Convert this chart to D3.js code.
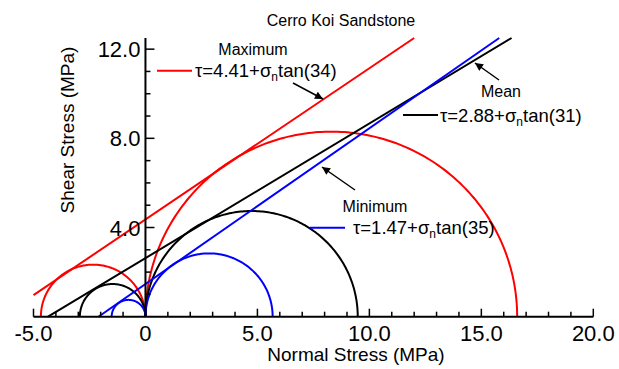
<!DOCTYPE html>
<html>
<head>
<meta charset="utf-8">
<script src="https://cdn.jsdelivr.net/npm/d3@7"></script>
<style>
  body { margin: 0; background: #fff; }
  svg { font-family: Arial, "Liberation Sans", sans-serif; }
</style>
</head>
<body>
<svg id="chart" width="619" height="369"></svg>
<script>
// Mohr circles: [sigma3, sigma1] in MPa
const circlesMax = [[-4.67, 0], [0, 16.6]];
const circlesMean = [[-2.93, 0], [0, 9.48]];
const circlesMin = [[-1.51, 0], [0, 5.68]];

// failure envelopes drawn as two end points [sigma, tau]
const envMax = [[-5.0, 0.97], [12.0, 12.5]];
const envMean = [[-4.35, 0], [16.35, 12.5]];
const envMin = [[-2.1, 0], [15.8, 12.5]];

const xTicks = [-5, 0, 5, 10, 15, 20];
const xTickLabels = ["-5.0", "0", "5.0", "10.0", "15.0", "20.0"];
const yTicks = [4, 8, 12];
const yTickLabels = ["4.0", "8.0", "12.0"];

const legend = [
  { name: "Maximum", c: "4.41", phi: "34", color: "#ff0000" },
  { name: "Mean", c: "2.88", phi: "31", color: "#000000" },
  { name: "Minimum", c: "1.47", phi: "35", color: "#0000ff" }
];

const svg = d3.select("#chart");

const x = d3.scaleLinear().domain([-5, 20]).range([33.5, 593.3]);
const y = d3.scaleLinear().domain([0, 12.5]).range([316.7, 38]);

// arrow head
svg.append("defs").append("marker")
  .attr("id", "arr")
  .attr("viewBox", "0 0 10 10")
  .attr("refX", 10).attr("refY", 5)
  .attr("markerWidth", 10).attr("markerHeight", 8)
  .attr("markerUnits", "userSpaceOnUse")
  .attr("orient", "auto")
  .append("path").attr("d", "M0,0L10,5L0,10z").attr("fill", "#000");

const plot = svg.append("g");

function semicircle(c) {
  const cx = (c[0] + c[1]) / 2, r = (c[1] - c[0]) / 2;
  const pts = d3.range(0, 181).map(a => {
    const t = a * Math.PI / 180;
    return [cx + r * Math.cos(t), r * Math.sin(t)];
  });
  return d3.line().x(d => x(d[0])).y(d => y(d[1]))(pts);
}

const sets = [
  { circles: circlesMax, env: envMax, color: "#ff0000" },
  { circles: circlesMean, env: envMean, color: "#000000" },
  { circles: circlesMin, env: envMin, color: "#0000ff" }
];

sets.forEach(s => {
  plot.selectAll(null).data(s.circles).enter().append("path")
    .attr("d", semicircle)
    .attr("fill", "none")
    .attr("stroke", s.color)
    .attr("stroke-width", 2);
});
sets.forEach(s => {
  plot.append("path")
    .attr("d", d3.line().x(d => x(d[0])).y(d => y(d[1]))(s.env))
    .attr("fill", "none")
    .attr("stroke", s.color)
    .attr("stroke-width", 2);
});

// axes
const xAxis = svg.append("g").attr("transform", `translate(0,${y(0)})`);
xAxis.append("line").attr("x1", x(-5)).attr("x2", x(20)).attr("stroke", "#000").attr("stroke-width", 2);
xAxis.selectAll(".minor").data(d3.range(-5, 21)).enter().append("line")
  .attr("x1", d => x(d)).attr("x2", d => x(d))
  .attr("y1", 0).attr("y2", d => d % 5 === 0 ? -8 : -5)
  .attr("stroke", "#000").attr("stroke-width", 1.5);
xAxis.selectAll(".lab").data(xTicks).enter().append("text")
  .attr("x", d => x(d)).attr("y", 24)
  .attr("text-anchor", "middle")
  .attr("font-size", 22)
  .text((d, i) => xTickLabels[i]);

const yAxis = svg.append("g").attr("transform", `translate(${x(0)},0)`);
yAxis.append("line").attr("y1", y(0)).attr("y2", y(12.5)).attr("stroke", "#000").attr("stroke-width", 2);
yAxis.selectAll(".minor").data(d3.range(1, 13)).enter().append("line")
  .attr("y1", d => y(d)).attr("y2", d => y(d))
  .attr("x1", 0).attr("x2", d => d % 4 === 0 ? 9 : 5)
  .attr("stroke", "#000").attr("stroke-width", 1.5);
yAxis.selectAll(".lab").data(yTicks).enter().append("text")
  .attr("x", -5).attr("y", d => y(d) + 8)
  .attr("text-anchor", "end")
  .attr("font-size", 22)
  .text((d, i) => yTickLabels[i]);

// axis titles
svg.append("text").attr("x", 356).attr("y", 361).attr("text-anchor", "middle")
  .attr("font-size", 19).text("Normal Stress (MPa)");
svg.append("text").attr("transform", "translate(74,130) rotate(-90)")
  .attr("text-anchor", "middle").attr("font-size", 19).text("Shear Stress (MPa)");

svg.append("text").attr("x", 341).attr("y", 26).attr("text-anchor", "middle")
  .attr("font-size", 16).text("Cerro Koi Sandstone");

// legend annotations
const legPos = [
  { nx: 253, ny: 55, lx: 157, ly: 70.7, tx: 195, ty: 77, arrow: [[293, 83], [323, 99]] },
  { nx: 501, ny: 97, lx: 403, ly: 115, tx: 440, ty: 122, arrow: [[499, 80], [475, 63]] },
  { nx: 375, ny: 212, lx: 310, ly: 227.7, tx: 353, ty: 234, arrow: [[355, 190], [322, 167]] }
];

legend.forEach((d, i) => {
  const p = legPos[i];
  svg.append("text").attr("x", p.nx).attr("y", p.ny).attr("text-anchor", "middle")
    .attr("font-size", 16).text(d.name);
  svg.append("line").attr("x1", p.lx).attr("x2", p.lx + 35).attr("y1", p.ly).attr("y2", p.ly)
    .attr("stroke", d.color).attr("stroke-width", 2);
  const t = svg.append("text").attr("x", p.tx).attr("y", p.ty).attr("font-size", 18.5);
  t.append("tspan").text(`τ=${d.c}+σ`);
  t.append("tspan").attr("font-size", 12).attr("dy", 4).text("n");
  t.append("tspan").attr("dy", -4).text(`tan(${d.phi})`);
  svg.append("line")
    .attr("x1", p.arrow[0][0]).attr("y1", p.arrow[0][1])
    .attr("x2", p.arrow[1][0]).attr("y2", p.arrow[1][1])
    .attr("stroke", "#000").attr("stroke-width", 1.5)
    .attr("marker-end", "url(#arr)");
});
</script>
</body>
</html>
